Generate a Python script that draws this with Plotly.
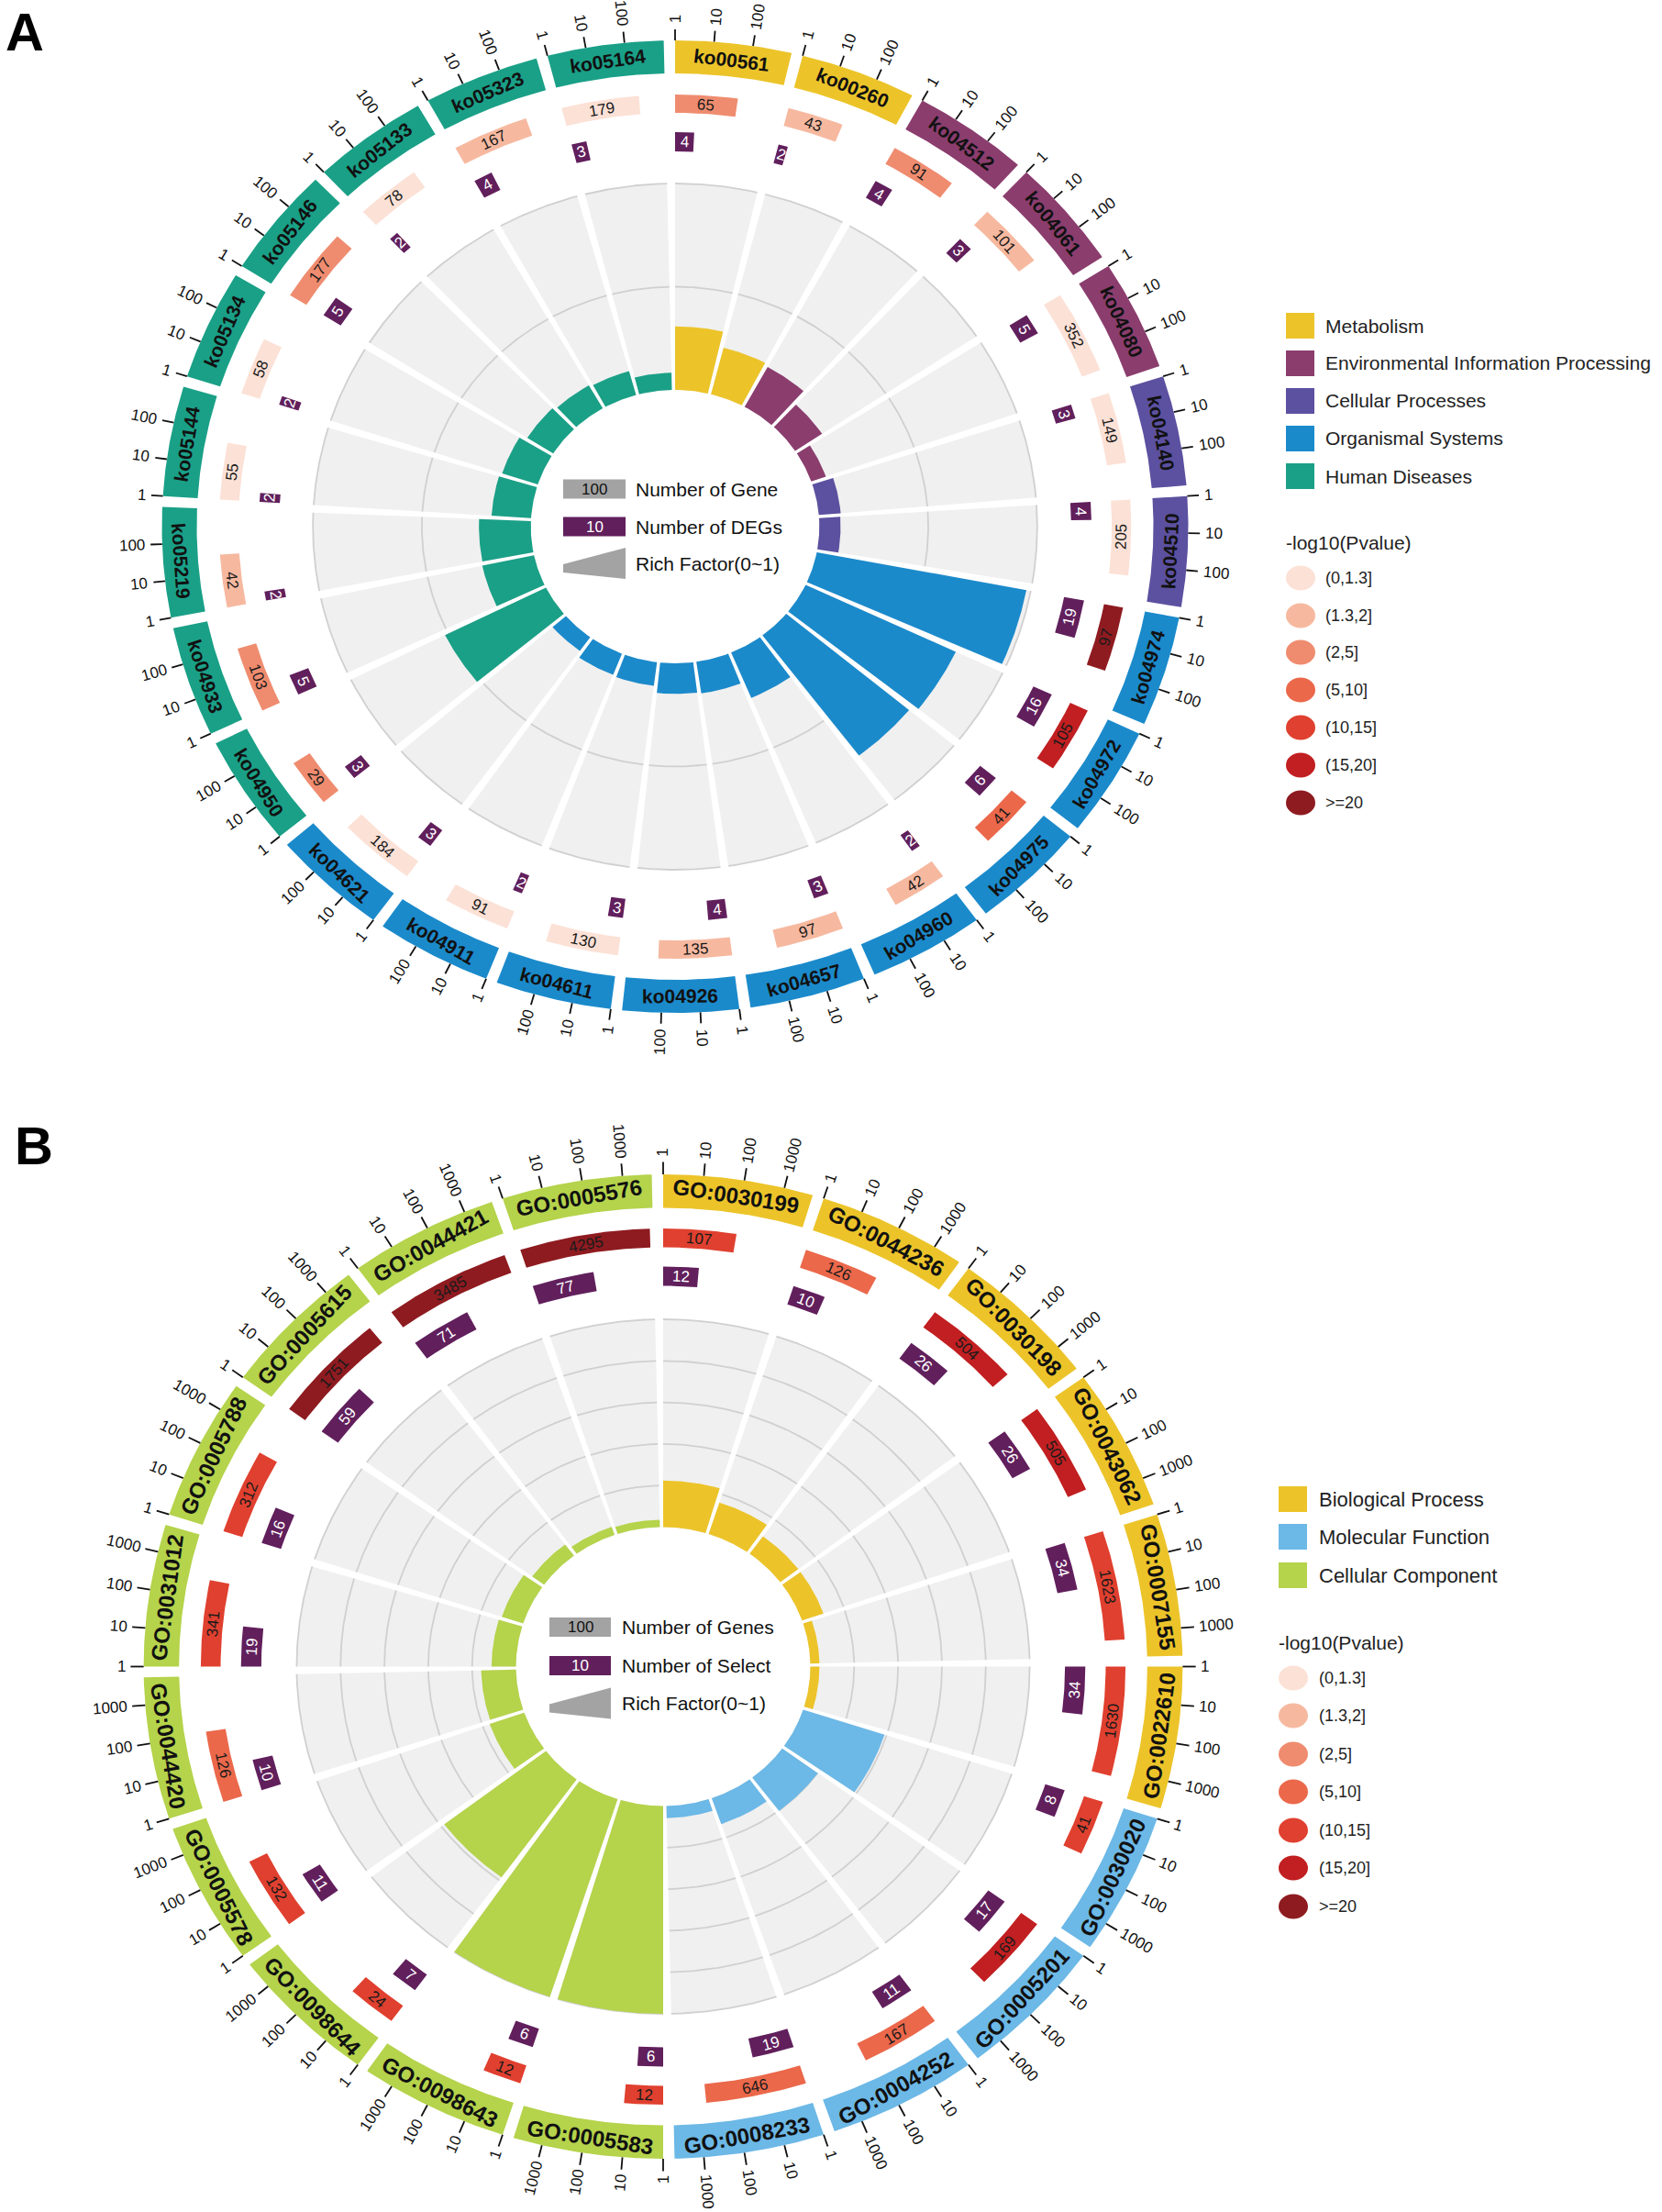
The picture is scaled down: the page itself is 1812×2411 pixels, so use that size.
import numpy as np
import plotly.graph_objects as go

FONT = "Liberation Sans, Arial, Helvetica, sans-serif"
W, H = 1812, 2411
K = 1.0557  # horizontal px per data unit (the reference circles are slightly wide)

# ---------------- data: panel A (KEGG) ----------------
A_ids = ["ko00561", "ko00260", "ko04512", "ko04061", "ko04080", "ko04140", "ko04510",
         "ko04974", "ko04972", "ko04975", "ko04960", "ko04657", "ko04926", "ko04611",
         "ko04911", "ko04621", "ko04950", "ko04933", "ko05219", "ko05144", "ko05134",
         "ko05146", "ko05133", "ko05323", "ko05164"]
A_class = (["Metabolism"] * 2 + ["Environmental Information Processing"] * 3 +
           ["Cellular Processes"] * 2 + ["Organismal Systems"] * 9 + ["Human Diseases"] * 9)
A_genes = [65, 43, 91, 101, 352, 149, 205, 97, 105, 41, 42, 97, 135, 130, 91, 184,
           29, 103, 42, 55, 58, 177, 78, 167, 179]
A_degs = [4, 2, 4, 3, 5, 3, 4, 19, 16, 6, 2, 3, 4, 3, 2, 3, 3, 5, 2, 2, 2, 5, 2, 4, 3]
A_plevel = ["(2,5]", "(1.3,2]", "(2,5]", "(1.3,2]", "(0,1.3]", "(0,1.3]", "(0,1.3]",
            ">=20", "(15,20]", "(5,10]", "(1.3,2]", "(1.3,2]", "(1.3,2]", "(0,1.3]",
            "(0,1.3]", "(0,1.3]", "(2,5]", "(2,5]", "(1.3,2]", "(0,1.3]", "(0,1.3]",
            "(2,5]", "(0,1.3]", "(1.3,2]", "(0,1.3]"]
A_classes = ["Metabolism", "Environmental Information Processing", "Cellular Processes",
             "Organismal Systems", "Human Diseases"]
A_tick_vals = [1, 10, 100]
A_center_labels = ["Number of Gene", "Number of DEGs", "Rich Factor(0~1)"]

# ---------------- data: panel B (GO) ----------------
B_ids = ["GO:0030199", "GO:0044236", "GO:0030198", "GO:0043062", "GO:0007155",
         "GO:0022610", "GO:0030020", "GO:0005201", "GO:0004252", "GO:0008233",
         "GO:0005583", "GO:0098643", "GO:0098644", "GO:0005578", "GO:0044420",
         "GO:0031012", "GO:0005788", "GO:0005615", "GO:0044421", "GO:0005576"]
B_class = (["Biological Process"] * 6 + ["Molecular Function"] * 4 +
           ["Cellular Component"] * 10)
B_genes = [107, 126, 504, 505, 1623, 1630, 41, 169, 167, 646, 12, 12, 24, 132, 126,
           341, 312, 1751, 3485, 4295]
B_select = [12, 10, 26, 26, 34, 34, 8, 17, 11, 19, 6, 6, 7, 11, 10, 19, 16, 59, 71, 77]
B_plevel = ["(10,15]", "(5,10]", "(15,20]", "(15,20]", "(10,15]", "(10,15]", "(10,15]",
            "(15,20]", "(5,10]", "(5,10]", "(10,15]", "(10,15]", "(10,15]", "(10,15]",
            "(5,10]", "(10,15]", "(10,15]", ">=20", ">=20", ">=20"]
B_classes = ["Biological Process", "Molecular Function", "Cellular Component"]
B_tick_vals = [1, 10, 100, 1000]
B_center_labels = ["Number of Genes", "Number of Select", "Rich Factor(0~1)"]

P_LEVELS = ["(0,1.3]", "(1.3,2]", "(2,5]", "(5,10]", "(10,15]", "(15,20]", ">=20"]

# ---------------- styles ----------------
P_COLORS = ["#fce1d6", "#f6b9a0", "#ef8c6f", "#eb684b", "#e0402f", "#c11f21", "#8e1b20"]
A_CLASS_COLORS = ["#ecc42a", "#8b3d6e", "#5c50a0", "#1b8acb", "#1aa087"]
B_CLASS_COLORS = ["#ecc42a", "#6cb8e6", "#b5d34b"]
DEG_COLOR = "#611f5c"
GREY_BG = "#f0f0f0"
GRID = "#d0d0d0"

PANEL_A = dict(xa="x", ya="y", gap=1.27, dpd=4.37,
               r0=149, r_grey=374, rf_max=0.2, rf_grid=[0.1, 0.2],
               r_small=(409, 430), r_gene=(451, 471), r_band=(494, 530),
               r_tick=(530, 542), r_lab=546, band_fs=21, num_fs=17, tick_fs=17,
               leg_box=(-122, -54), leg_text=-45, leg_rows=[-41, 0, 40], leg_fs=21)
PANEL_B = dict(xa="x2", ya="y2", gap=1.26, dpd=4.5,
               r0=152, r_grey=378.5, rf_max=0.5, rf_grid=[0.1, 0.2, 0.3, 0.4, 0.5],
               r_small=(415, 436), r_gene=(457, 477.5), r_band=(500, 536.5),
               r_tick=(536.5, 550), r_lab=553, band_fs=24, num_fs=17, tick_fs=17,
               leg_box=(-124, -57), leg_text=-47, leg_rows=[-43, -1, 40], leg_fs=22)


def annular(t1, t2, ra, rb, step=0.3):
    n = max(2, int(np.ceil(abs(t2 - t1) / step)) + 1)
    t = np.radians(np.linspace(t1, t2, n))
    xs = np.concatenate([rb * np.sin(t), ra * np.sin(t[::-1])])
    ys = np.concatenate([rb * np.cos(t), ra * np.cos(t[::-1])])
    return list(xs) + [xs[0], None], list(ys) + [ys[0], None]


def add_polys(fig, polys, color, xa, ya):
    if not polys:
        return
    xs, ys = [], []
    for px, py in polys:
        xs += px
        ys += py
    fig.add_trace(go.Scatter(x=xs, y=ys, mode="lines", fill="toself", fillcolor=color,
                             line=dict(width=0, color=color), hoverinfo="skip",
                             showlegend=False, xaxis=xa, yaxis=ya))


def screen_angle(theta):
    t = np.radians(theta)
    return float(np.degrees(np.arctan2(K * np.sin(t), np.cos(t))) % 360)


def tang_rot(p):
    return p if p < 90 else (p - 180 if p < 270 else p - 360)


def radial_rot(p):
    return p - 90 if p < 180 else p - 270


def stretch(theta):
    t = np.radians(theta)
    return float(np.sqrt((K * np.sin(t)) ** 2 + np.cos(t) ** 2))


def pol(theta, r):
    t = np.radians(theta)
    return float(r * np.sin(t)), float(r * np.cos(t))


annotations = []
shapes = []


def draw_panel(fig, P, ids, cls, cls_names, cls_colors, genes, small, plev, tick_vals,
               center_labels):
    xa, ya = P["xa"], P["ya"]
    xr, yr = xa, ya
    n = len(ids)
    seg = 360.0 / n
    usable = seg - P["gap"]
    dpd = P["dpd"]
    starts = [i * seg for i in range(n)]
    r0, rg = P["r0"], P["r_grey"]

    # grey background sectors
    add_polys(fig, [annular(s, s + usable, r0, rg) for s in starts], GREY_BG, xa, ya)
    # grid arcs
    gx, gy = [], []
    for g in P["rf_grid"]:
        r = r0 + (rg - r0) * g / P["rf_max"]
        for s in starts:
            t = np.radians(np.linspace(s, s + usable, 40))
            gx += list(r * np.sin(t)) + [None]
            gy += list(r * np.cos(t)) + [None]
    fig.add_trace(go.Scatter(x=gx, y=gy, mode="lines", line=dict(color=GRID, width=1.8),
                             hoverinfo="skip", showlegend=False, xaxis=xa, yaxis=ya))
    # rich factor bars
    rf = [d / g for d, g in zip(small, genes)]
    for cname, ccol in zip(cls_names, cls_colors):
        polys = [annular(starts[i], starts[i] + usable, r0,
                         r0 + (rg - r0) * rf[i] / P["rf_max"])
                 for i in range(n) if cls[i] == cname]
        add_polys(fig, polys, ccol, xa, ya)
    # gene-count bars (log scale along the sector)
    for lev, col in zip(P_LEVELS, P_COLORS):
        polys = [annular(starts[i], starts[i] + np.log10(genes[i]) * dpd, *P["r_gene"])
                 for i in range(n) if plev[i] == lev]
        add_polys(fig, polys, col, xa, ya)
    # DEG / selected bars
    add_polys(fig, [annular(starts[i], starts[i] + np.log10(small[i]) * dpd, *P["r_small"])
                    for i in range(n)], DEG_COLOR, xa, ya)
    # outer category band
    for cname, ccol in zip(cls_names, cls_colors):
        polys = [annular(starts[i], starts[i] + usable, *P["r_band"])
                 for i in range(n) if cls[i] == cname]
        add_polys(fig, polys, ccol, xa, ya)
    # ticks
    tx, ty = [], []
    for s in starts:
        for v in tick_vals:
            th = s + np.log10(v) * dpd
            x1, y1 = pol(th, P["r_tick"][0])
            x2, y2 = pol(th, P["r_tick"][1])
            tx += [x1, x2, None]
            ty += [y1, y2, None]
    fig.add_trace(go.Scatter(x=tx, y=ty, mode="lines", line=dict(color="#111", width=1.8),
                             hoverinfo="skip", showlegend=False, xaxis=xa, yaxis=ya))

    # ---- texts ----
    for i in range(n):
        s = starts[i]
        # band label
        th = s + usable / 2
        x, y = pol(th, np.mean(P["r_band"]))
        annotations.append(dict(x=x, y=y, xref=xr, yref=yr, text="<b>%s</b>" % ids[i],
                                showarrow=False, textangle=tang_rot(screen_angle(th)),
                                xanchor="center", yanchor="middle",
                                font=dict(family=FONT, size=P["band_fs"], color="#111")))
        # gene number
        th = s + np.log10(genes[i]) * dpd / 2
        x, y = pol(th, np.mean(P["r_gene"]))
        annotations.append(dict(x=x, y=y, xref=xr, yref=yr, text=str(genes[i]),
                                showarrow=False, textangle=tang_rot(screen_angle(th)),
                                xanchor="center", yanchor="middle",
                                font=dict(family=FONT, size=P["num_fs"], color="#1a1a1a")))
        # DEG number
        th = s + np.log10(small[i]) * dpd / 2
        x, y = pol(th, np.mean(P["r_small"]))
        annotations.append(dict(x=x, y=y, xref=xr, yref=yr, text=str(small[i]),
                                showarrow=False, textangle=tang_rot(screen_angle(th)),
                                xanchor="center", yanchor="middle",
                                font=dict(family=FONT, size=P["num_fs"], color="white")))
        # tick labels
        for v in tick_vals:
            th = s + np.log10(v) * dpd
            L = len(str(v)) * 0.556 * P["tick_fs"]
            r = P["r_lab"] + (L / 2 + 2) / stretch(th)
            x, y = pol(th, r)
            annotations.append(dict(x=x, y=y, xref=xr, yref=yr, text=str(v),
                                    showarrow=False, textangle=radial_rot(screen_angle(th)),
                                    xanchor="center", yanchor="middle",
                                    font=dict(family=FONT, size=P["tick_fs"], color="#111")))

    # ---- centre legend ----
    bx0, bx1 = P["leg_box"][0] / K, P["leg_box"][1] / K
    rows = [-d for d in P["leg_rows"]]
    shapes.append(dict(type="rect", xref=xr, yref=yr, x0=bx0, x1=bx1, y0=rows[0] - 10.5,
                       y1=rows[0] + 10.5, fillcolor="#a3a3a3", line=dict(width=0)))
    shapes.append(dict(type="rect", xref=xr, yref=yr, x0=bx0, x1=bx1, y0=rows[1] - 10.5,
                       y1=rows[1] + 10.5, fillcolor=DEG_COLOR, line=dict(width=0)))
    yc = rows[2]
    shapes.append(dict(type="path", xref=xr, yref=yr,
                       path="M %f %f L %f %f L %f %f L %f %f Z" % (
                           bx0, yc - 1, bx1, yc + 17, bx1, yc - 17, bx0, yc - 10),
                       fillcolor="#a3a3a3", line=dict(width=0)))
    annotations.append(dict(x=(bx0 + bx1) / 2, y=rows[0], xref=xr, yref=yr, text="100",
                            showarrow=False, xanchor="center", yanchor="middle",
                            font=dict(family=FONT, size=17, color="#111")))
    annotations.append(dict(x=(bx0 + bx1) / 2, y=rows[1], xref=xr, yref=yr, text="10",
                            showarrow=False, xanchor="center", yanchor="middle",
                            font=dict(family=FONT, size=17, color="white")))
    for rw, lab in zip(rows, center_labels):
        annotations.append(dict(x=P["leg_text"] / K, y=rw, xref=xr, yref=yr, text=lab,
                                xanchor="left", yanchor="middle", showarrow=False,
                                font=dict(family=FONT, size=21, color="#111")))


def side_legend(names, colors, x0, x1, text_x, rows, title_y, circ_rows, fs):
    for nm, col, ry in zip(names, colors, rows):
        shapes.append(dict(type="rect", xref="paper", yref="paper", x0=x0 / W, x1=x1 / W,
                           y0=1 - (ry + 14) / H, y1=1 - (ry - 14) / H, fillcolor=col,
                           line=dict(width=0)))
        annotations.append(dict(x=text_x / W, y=1 - ry / H, xref="paper", yref="paper",
                                text=nm, xanchor="left", yanchor="middle", showarrow=False,
                                font=dict(family=FONT, size=fs, color="#222")))
    annotations.append(dict(x=(x0 - 2) / W, y=1 - title_y / H, xref="paper", yref="paper",
                            text="-log10(Pvalue)", xanchor="left", yanchor="middle",
                            showarrow=False,
                            font=dict(family=FONT, size=21, color="#222")))
    for lev, col, ry in zip(P_LEVELS, P_COLORS, circ_rows):
        shapes.append(dict(type="circle", xref="paper", yref="paper", x0=x0 / W,
                           x1=(x1 + 1) / W, y0=1 - (ry + 13.5) / H, y1=1 - (ry - 13.5) / H,
                           fillcolor=col, line=dict(width=0)))
        annotations.append(dict(x=text_x / W, y=1 - ry / H, xref="paper", yref="paper",
                                text=lev, xanchor="left", yanchor="middle", showarrow=False,
                                font=dict(family=FONT, size=18, color="#222")))


fig = go.Figure()
draw_panel(fig, PANEL_A, A_ids, A_class, A_classes, A_CLASS_COLORS, A_genes, A_degs,
           A_plevel, A_tick_vals, A_center_labels)
draw_panel(fig, PANEL_B, B_ids, B_class, B_classes, B_CLASS_COLORS, B_genes, B_select,
           B_plevel, B_tick_vals, B_center_labels)

side_legend(A_classes, A_CLASS_COLORS, 1402, 1433, 1443,
            [355, 396, 437, 478, 519], 591, [630, 671, 711, 752, 793, 834, 875],
            PANEL_A["leg_fs"])
side_legend(B_classes, B_CLASS_COLORS, 1394, 1425, 1436,
            [1634, 1675, 1717], 1790, [1829, 1870, 1912, 1953, 1995, 2036, 2078],
            PANEL_B["leg_fs"])

annotations.append(dict(x=4 / W, y=1.0, xref="paper", yref="paper", text="<b>A</b>",
                        xanchor="left", yanchor="top", showarrow=False,
                        font=dict(family=FONT, size=58, color="black")))
annotations.append(dict(x=14 / W, y=1 - 1214 / H, xref="paper", yref="paper",
                        text="<b>B</b>", xanchor="left", yanchor="top", showarrow=False,
                        font=dict(family=FONT, size=58, color="black")))


def axis(domain, rng, anchor):
    return dict(domain=domain, range=rng, visible=False, fixedrange=True, anchor=anchor,
                showgrid=False, zeroline=False)


SPLIT = 1205
A_CX, A_CY = 736, 574
B_CX, B_CY = 723, 1816.5
fig.update_layout(
    width=W, height=H, margin=dict(l=0, r=0, t=0, b=0),
    plot_bgcolor="white", paper_bgcolor="white", showlegend=False,
    xaxis=axis([0, 1], [-A_CX / K, (W - A_CX) / K], "y"),
    yaxis=axis([1 - SPLIT / H, 1], [-(SPLIT - A_CY), A_CY], "x"),
    xaxis2=axis([0, 1], [-B_CX / K, (W - B_CX) / K], "y2"),
    yaxis2=axis([0, 1 - SPLIT / H], [-(H - B_CY), B_CY - SPLIT], "x2"),
    annotations=annotations, shapes=shapes,
    font=dict(family=FONT),
)

fig.write_html("out.html", config={"displayModeBar": False},
               post_script="document.body.style.margin='0';")
